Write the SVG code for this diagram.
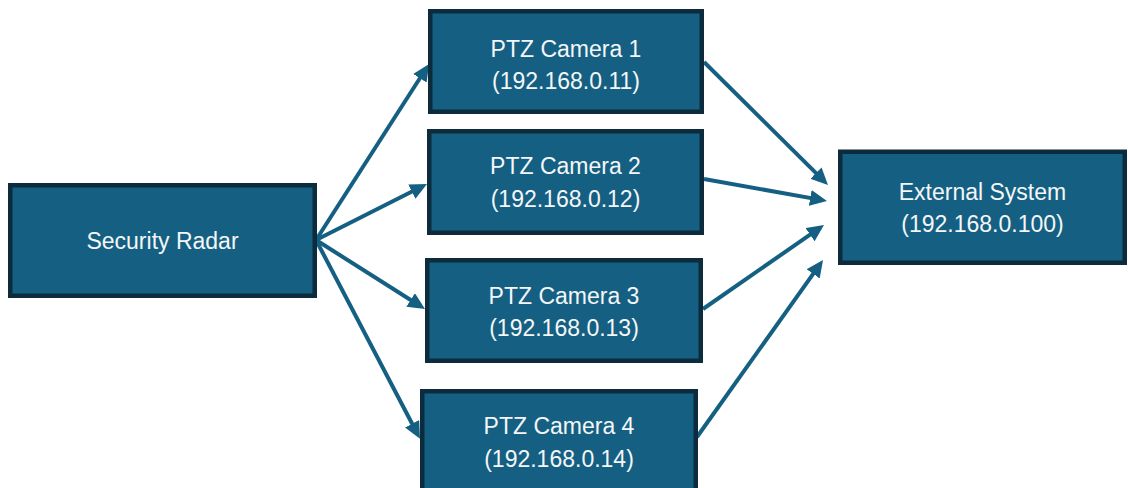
<svg xmlns="http://www.w3.org/2000/svg" width="1128" height="488" viewBox="0 0 1128 488">
  <style>
    .box { fill: #156082; stroke: #0c2b3c; stroke-width: 4.5; }
    .lbl { font-family: "Liberation Sans", Arial, sans-serif; font-size: 23px; fill: #f4f6f8; text-anchor: middle; }
    .conn { stroke: #156082; stroke-width: 4; fill: none; marker-end: url(#ah); }
  </style>
  <defs>
    <marker id="ah" markerUnits="userSpaceOnUse" markerWidth="19" markerHeight="17" refX="8" refY="8" orient="auto">
      <path d="M0,0 L17,8 L0,16 z" fill="#156082"/>
    </marker>
  </defs>
  <rect width="1128" height="488" fill="#ffffff"/>

  <g id="connectors">
    <line class="conn" x1="316" y1="240" x2="424.2" y2="71.5"/>
    <line class="conn" x1="316" y1="240" x2="419" y2="188"/>
    <line class="conn" x1="316" y1="240" x2="417.4" y2="304.2"/>
    <line class="conn" x1="316" y1="240" x2="415.8" y2="430.8"/>
    <line class="conn" x1="704" y1="62" x2="821.6" y2="178.7"/>
    <line class="conn" x1="704" y1="179" x2="818.1" y2="199.4"/>
    <line class="conn" x1="703" y1="309" x2="816.6" y2="230.1"/>
    <line class="conn" x1="697" y1="437" x2="817.8" y2="267.3"/>
  </g>

  <g id="security-radar">
    <rect class="box" x="10.25" y="185.25" width="304.5" height="110.5"/>
    <text class="lbl" x="162.5" y="249">Security Radar</text>
  </g>

  <g id="ptz-camera-1">
    <rect class="box" x="430.25" y="11.25" width="271.5" height="100.5"/>
    <text class="lbl" x="566" y="56.5">PTZ Camera 1</text>
    <text class="lbl" x="566" y="89">(192.168.0.11)</text>
  </g>

  <g id="ptz-camera-2">
    <rect class="box" x="429.25" y="131.25" width="272.5" height="101.5"/>
    <text class="lbl" x="565.5" y="174">PTZ Camera 2</text>
    <text class="lbl" x="565.5" y="206.5">(192.168.0.12)</text>
  </g>

  <g id="ptz-camera-3">
    <rect class="box" x="427.25" y="260.25" width="273.5" height="100.5"/>
    <text class="lbl" x="564" y="303.5">PTZ Camera 3</text>
    <text class="lbl" x="564" y="336">(192.168.0.13)</text>
  </g>

  <g id="ptz-camera-4">
    <rect class="box" x="422.25" y="391.25" width="273.5" height="100.5"/>
    <text class="lbl" x="559" y="433.5">PTZ Camera 4</text>
    <text class="lbl" x="559" y="467">(192.168.0.14)</text>
  </g>

  <g id="external-system">
    <rect class="box" x="840.25" y="151.75" width="284.5" height="111"/>
    <text class="lbl" x="982.5" y="199.5">External System</text>
    <text class="lbl" x="982.5" y="231.5">(192.168.0.100)</text>
  </g>
</svg>
